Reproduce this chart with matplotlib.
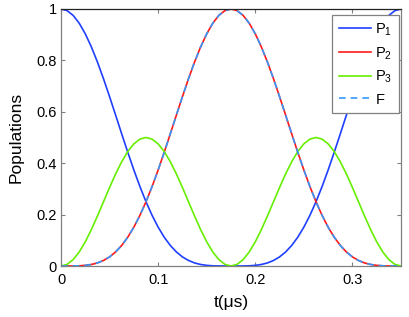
import matplotlib
matplotlib.use('Agg')
import matplotlib.pyplot as plt

plt.rcParams['font.family'] = ['Liberation Sans', 'DejaVu Sans']
plt.rcParams['mathtext.fontset'] = 'custom'
plt.rcParams['mathtext.rm'] = 'Liberation Sans'
plt.rcParams['mathtext.it'] = 'Liberation Sans'

# time axis (microseconds)
t = [0.0, 0.00625, 0.0125, 0.01875, 0.025, 0.03125, 0.0375, 0.04375, 0.05,
     0.05625, 0.0625, 0.06875, 0.075, 0.08125, 0.0875, 0.09375, 0.1, 0.10625,
     0.1125, 0.11875, 0.125, 0.13125, 0.1375, 0.14375, 0.15, 0.15625, 0.1625,
     0.16875, 0.175, 0.18125, 0.1875, 0.19375, 0.2, 0.20625, 0.2125, 0.21875,
     0.225, 0.23125, 0.2375, 0.24375, 0.25, 0.25625, 0.2625, 0.26875, 0.275,
     0.28125, 0.2875, 0.29375, 0.3, 0.30625, 0.3125, 0.31875, 0.325, 0.33125,
     0.3375, 0.34375, 0.35]

# populations
P1 = [1.0, 0.9937, 0.9751, 0.9447, 0.9034, 0.8526, 0.7937, 0.7286, 0.6589,
      0.5868, 0.5140, 0.4424, 0.3736, 0.3091, 0.25, 0.1972, 0.1511, 0.1121,
      0.0801, 0.0548, 0.0354, 0.0215, 0.0119, 0.0059, 0.0025, 0.0008, 0.0002,
      0.0, 0.0, 0.0, 0.0002, 0.0008, 0.0025, 0.0059, 0.0119, 0.0215, 0.0354,
      0.0548, 0.0801, 0.1121, 0.1511, 0.1972, 0.25, 0.3091, 0.3736, 0.4424,
      0.5140, 0.5868, 0.6589, 0.7286, 0.7937, 0.8526, 0.9034, 0.9447, 0.9751,
      0.9937, 1.0]
P2 = [0.0, 0.0, 0.0002, 0.0008, 0.0025, 0.0059, 0.0119, 0.0215, 0.0354,
      0.0548, 0.0801, 0.1121, 0.1511, 0.1972, 0.25, 0.3091, 0.3736, 0.4424,
      0.5140, 0.5868, 0.6589, 0.7286, 0.7937, 0.8526, 0.9034, 0.9447, 0.9751,
      0.9937, 1.0, 0.9937, 0.9751, 0.9447, 0.9034, 0.8526, 0.7937, 0.7286,
      0.6589, 0.5868, 0.5140, 0.4424, 0.3736, 0.3091, 0.25, 0.1972, 0.1511,
      0.1121, 0.0801, 0.0548, 0.0354, 0.0215, 0.0119, 0.0059, 0.0025, 0.0008,
      0.0002, 0.0, 0.0]
P3 = [0.0, 0.0063, 0.0248, 0.0546, 0.0941, 0.1415, 0.1944, 0.25, 0.3056,
      0.3585, 0.4059, 0.4455, 0.4752, 0.4937, 0.5, 0.4937, 0.4752, 0.4455,
      0.4059, 0.3585, 0.3056, 0.25, 0.1944, 0.1415, 0.0941, 0.0546, 0.0248,
      0.0063, 0.0, 0.0063, 0.0248, 0.0546, 0.0941, 0.1415, 0.1944, 0.25,
      0.3056, 0.3585, 0.4059, 0.4455, 0.4752, 0.4937, 0.5, 0.4937, 0.4752,
      0.4455, 0.4059, 0.3585, 0.3056, 0.25, 0.1944, 0.1415, 0.0941, 0.0546,
      0.0248, 0.0063, 0.0]
F = [0.0, 0.0, 0.0002, 0.0008, 0.0025, 0.0059, 0.0119, 0.0215, 0.0354,
     0.0548, 0.0801, 0.1121, 0.1511, 0.1972, 0.25, 0.3091, 0.3736, 0.4424,
     0.5140, 0.5868, 0.6589, 0.7286, 0.7937, 0.8526, 0.9034, 0.9447, 0.9751,
     0.9937, 1.0, 0.9937, 0.9751, 0.9447, 0.9034, 0.8526, 0.7937, 0.7286,
     0.6589, 0.5868, 0.5140, 0.4424, 0.3736, 0.3091, 0.25, 0.1972, 0.1511,
     0.1121, 0.0801, 0.0548, 0.0354, 0.0215, 0.0119, 0.0059, 0.0025, 0.0008,
     0.0002, 0.0, 0.0]

xticks = [0, 0.1, 0.2, 0.3]
xticklabels = ['0', '0.1', '0.2', '0.3']
yticks = [0, 0.2, 0.4, 0.6, 0.8, 1]
yticklabels = ['0', '0.2', '0.4', '0.6', '0.8', '1']

fig = plt.figure(figsize=(4.09, 3.17), dpi=100)
ax = fig.add_axes([61 / 409, 51 / 317, 340 / 409, 257 / 317])

lw = 1.2
ax.plot(t, P1, color='#1f3fff', lw=lw, label='P$_1$')
ax.plot(t, P2, color='#ff1a1a', lw=lw, label='P$_2$')
ax.plot(t, P3, color='#66ee00', lw=lw, label='P$_3$')
ax.plot(t, F, color='#3399ff', lw=lw, ls=(0, (4, 3)), label='F')

ax.set_xlim(0, 0.35)
ax.set_ylim(0, 1)
ax.set_xticks(xticks)
ax.set_xticklabels(xticklabels)
ax.set_yticks(yticks)
ax.set_yticklabels(yticklabels)
ax.tick_params(direction='in', length=3, labelsize=10.5, color='#808080',
               top=True, right=True)
ax.tick_params(axis='x', pad=5)
ax.tick_params(axis='y', pad=3)

for side in ['left', 'bottom', 'right']:
    ax.spines[side].set_color('#808080')
ax.spines['top'].set_color('#222222')
for s in ax.spines.values():
    s.set_linewidth(0.9)

ax.set_xlabel('t(\u03bcs)', fontsize=12.5, labelpad=6)
ax.set_ylabel('Populations', fontsize=12.5, labelpad=9)

leg = ax.legend(loc='upper right', bbox_to_anchor=(0.994, 0.977),
                borderaxespad=0, fancybox=False, framealpha=1,
                edgecolor='#808080', fontsize=10.5, handlelength=2.2,
                handletextpad=0.3, labelspacing=0.5, borderpad=0.45)
leg.get_frame().set_linewidth(0.9)

fig.savefig('out.png', dpi=100)
